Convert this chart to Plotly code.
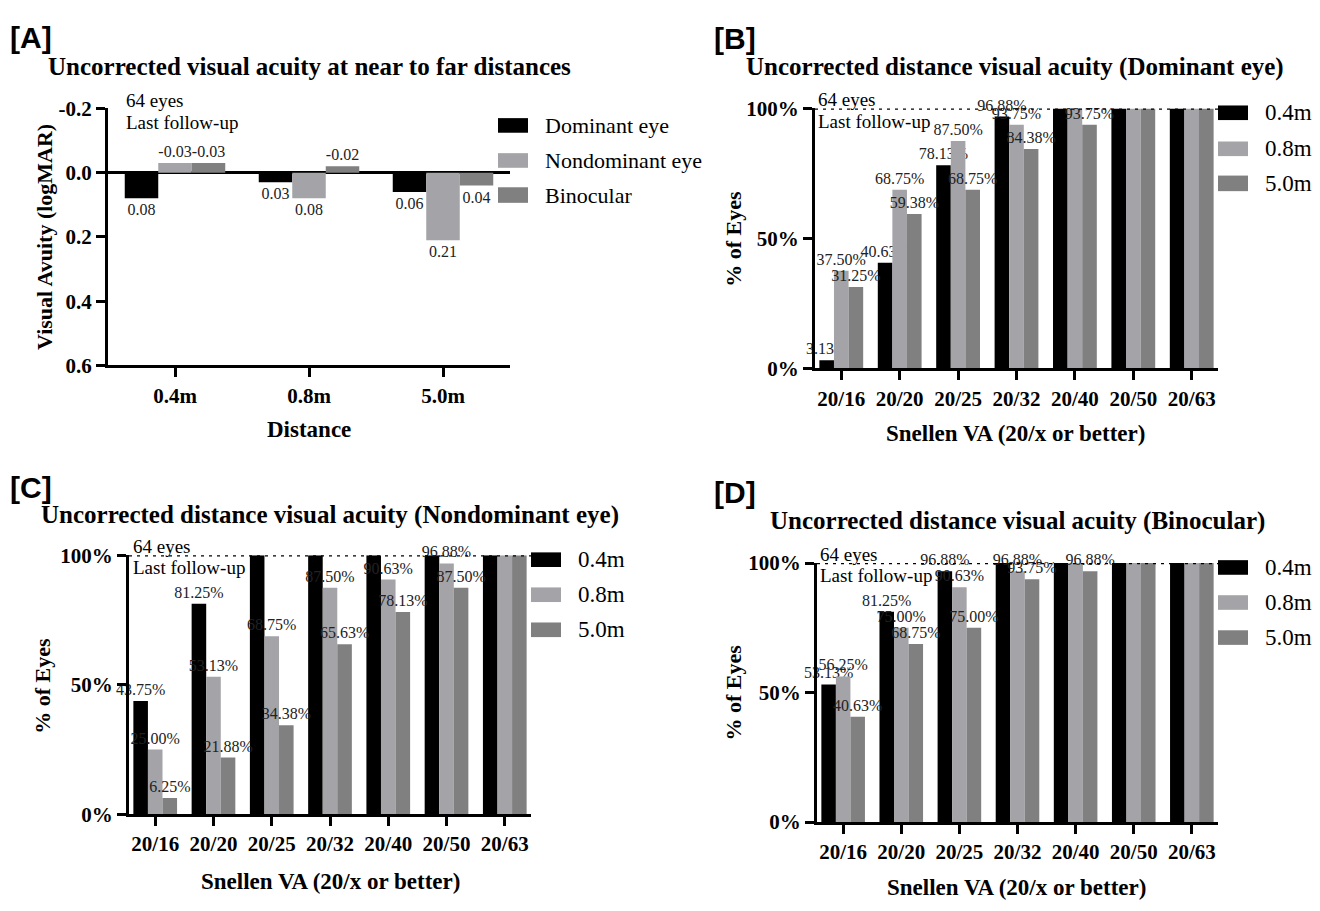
import plotly.graph_objects as go

W, H = 1320, 911

# ---------------- data ----------------
distances = ["0.4m", "0.8m", "5.0m"]
eye_names = ["Dominant eye", "Nondominant eye", "Binocular"]
dominant_logmar = [0.08, 0.03, 0.06]
nondominant_logmar = [-0.03, 0.08, 0.21]
binocular_logmar = [-0.03, -0.02, 0.04]

snellen = ["20/16", "20/20", "20/25", "20/32", "20/40", "20/50", "20/63"]
dist_names = ["0.4m", "0.8m", "5.0m"]

dom_04 = [3.13, 40.63, 78.13, 96.88, 100, 100, 100]
dom_08 = [37.50, 68.75, 87.50, 93.75, 100, 100, 100]
dom_50 = [31.25, 59.38, 68.75, 84.38, 93.75, 100, 100]

nondom_04 = [43.75, 81.25, 100, 100, 100, 100, 100]
nondom_08 = [25.00, 53.13, 68.75, 87.50, 90.63, 96.88, 100]
nondom_50 = [6.25, 21.88, 34.38, 65.63, 78.13, 87.50, 100]

bino_04 = [53.13, 81.25, 96.88, 100, 100, 100, 100]
bino_08 = [56.25, 75.00, 90.63, 96.88, 100, 100, 100]
bino_50 = [40.63, 68.75, 75.00, 93.75, 96.88, 100, 100]

COLORS = ["#000000", "#a3a3a8", "#808080"]
SERIF = "Liberation Serif"
SANS = "Liberation Sans"


def px(x):
    return x / W


def py(y):
    return 1 - y / H


fig = go.Figure()

# ---------------- panel A ----------------
for name, vals, col in zip(eye_names, [dominant_logmar, nondominant_logmar, binocular_logmar], COLORS):
    fig.add_trace(go.Bar(
        x=distances, y=vals, name=name, marker=dict(color=col, line=dict(width=0)),
        texttemplate="%{y:.2f}", textposition="outside", constraintext="none",
        textfont=dict(family=SERIF, size=16, color="#222"), cliponaxis=False,
        xaxis="x", yaxis="y", showlegend=False))

# ---------------- panels B, C, D ----------------
panels = [
    ("x2", "y2", [dom_04, dom_08, dom_50]),
    ("x3", "y3", [nondom_04, nondom_08, nondom_50]),
    ("x4", "y4", [bino_04, bino_08, bino_50]),
]
for xa, ya, series in panels:
    for name, vals, col in zip(dist_names, series, COLORS):
        fig.add_trace(go.Bar(
            x=snellen, y=vals, name=name, marker=dict(color=col, line=dict(width=0)),
            text=[f"{v:.2f}%" if v < 100 else "" for v in vals],
            textposition="outside", constraintext="none",
            textfont=dict(family=SERIF, size=16, color="#222"), cliponaxis=False,
            xaxis=xa, yaxis=ya, showlegend=False))

axis_common = dict(showline=True, linecolor="black", linewidth=3, ticks="outside",
                   ticklen=9, tickwidth=3, tickcolor="black", showgrid=False,
                   zeroline=False, fixedrange=True,
                   tickfont=dict(family=SERIF, size=21, color="black", weight="bold"))

# domains in pixels: (left, right, top, bottom)
domA = (108, 510, 99, 363)
domB = (815, 1218, 99, 366)
domC = (129, 531, 558, 824)
domD = (817, 1218, 566, 832)

layout_axes = {}
layout_axes["xaxis"] = dict(axis_common, domain=[px(domA[0]), px(domA[1])], anchor="y",
                            range=[-0.5, 2.5])
layout_axes["yaxis"] = dict(axis_common, domain=[py(domA[3]), py(domA[2])], anchor="x",
                            range=[0.6, -0.2], tickvals=[-0.2, 0, 0.2, 0.4, 0.6],
                            ticktext=["-0.2", "0.0", "0.2", "0.4", "0.6"],
                            zeroline=True, zerolinecolor="black", zerolinewidth=3)
for i, dom in zip([2, 3, 4], [domB, domC, domD]):
    layout_axes[f"xaxis{i}"] = dict(axis_common, domain=[px(dom[0]), px(dom[1])], anchor=f"y{i}",
                                    range=[-0.45, 6.45])
    layout_axes[f"yaxis{i}"] = dict(axis_common, domain=[py(dom[3]), py(dom[2])], anchor=f"x{i}",
                                    range=[0, 100], tickvals=[0, 50, 100],
                                    ticktext=["0%", "50%", "100%"])

fig.update_layout(**layout_axes)
fig.update_layout(width=W, height=H, margin=dict(l=0, r=0, t=0, b=0),
                  paper_bgcolor="white", plot_bgcolor="white",
                  barmode="group", bargap=0.25, bargroupgap=0)

annotations = []
shapes = []


def text(x, y, s, size, bold=False, family=SERIF, xanchor="left", yanchor="middle", angle=0):
    annotations.append(dict(x=px(x), y=py(y), xref="paper", yref="paper", text=s,
                            showarrow=False, xanchor=xanchor, yanchor=yanchor, textangle=angle,
                            font=dict(family=family, size=size, color="black",
                                      weight="bold" if bold else "normal")))


# panel labels
text(8, 26, "[A]", 30, True, SANS)
text(712, 27, "[B]", 30, True, SANS)
text(8, 488, "[C]", 30, True, SANS)
text(712, 494, "[D]", 30, True, SANS)

# titles
TS = 25
text(309, 56, "Uncorrected visual acuity at near to far distances", TS, True, xanchor="center")
text(1015, 56, "Uncorrected distance visual acuity (Dominant eye)", TS, True, xanchor="center")
text(330, 517, "Uncorrected distance visual acuity (Nondominant eye)", TS, True, xanchor="center")
text(1017, 523, "Uncorrected distance visual acuity (Binocular)", TS, True, xanchor="center")

# axis titles
AX, AY = 23, 22
text(45, 231, "Visual Avuity (logMAR)", AY, True, xanchor="center", angle=-90)
text(309, 429, "Distance", AX, True, xanchor="center")
text(734, 233, "% of Eyes", AY, True, xanchor="center", angle=-90)
text(1015, 433, "Snellen VA (20/x or better)", AX, True, xanchor="center")
text(43, 692, "% of Eyes", AY, True, xanchor="center", angle=-90)
text(330, 893, "Snellen VA (20/x or better)", AX, True, xanchor="center")
text(734, 699, "% of Eyes", AY, True, xanchor="center", angle=-90)
text(1016, 899, "Snellen VA (20/x or better)", AX, True, xanchor="center")

# 64 eyes notes
for (x0, y0) in [(124, 91), (816, 90), (131, 549), (818, 557)]:
    text(x0, y0, "64 eyes", 19)
    text(x0, y0 + 22, "Last follow-up", 19)

# dotted 100% lines
for i in [2, 3, 4]:
    shapes.append(dict(type="line", xref=f"x{i} domain", yref=f"y{i}", x0=0, x1=1, y0=100, y1=100,
                       line=dict(color="black", width=2.5, dash="3px,5px"), layer="above"))


# custom legends
def legend(x0, items, size):
    for (ytop, ybot, label), col in zip(items, COLORS):
        shapes.append(dict(type="rect", xref="paper", yref="paper",
                           x0=px(x0), x1=px(x0 + 30), y0=py(ybot), y1=py(ytop),
                           fillcolor=col, line=dict(width=0)))
        text(x0 + 45, (ytop + ybot) / 2, label, size)


legend(498, [(109, 124, "Dominant eye"), (145, 160, "Nondominant eye"), (180, 196, "Binocular")], 22)
legend(1218, [(96, 111, "0.4m"), (133, 148, "0.8m"), (168, 184, "5.0m")], 23)
legend(531, [(555, 570, "0.4m"), (591, 606, "0.8m"), (627, 642, "5.0m")], 23)
legend(1218, [(563, 578, "0.4m"), (599, 614, "0.8m"), (635, 650, "5.0m")], 23)

fig.update_layout(annotations=annotations, shapes=shapes)
fig.write_html("out.html", config={"displayModeBar": False},
               post_script="document.body.style.margin='0';document.body.style.overflow='hidden';")
